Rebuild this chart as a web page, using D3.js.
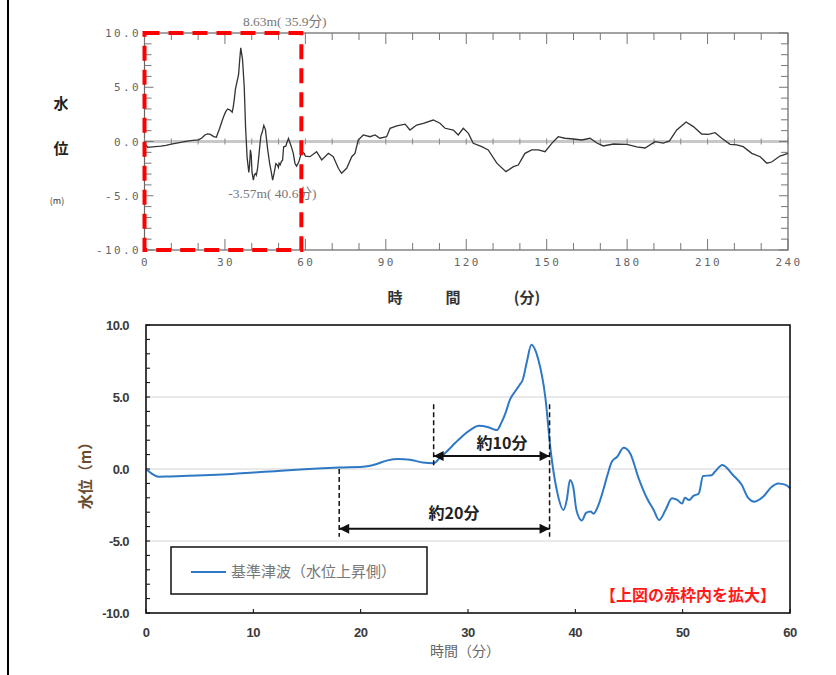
<!DOCTYPE html>
<html><head><meta charset="utf-8">
<script src="https://cdn.jsdelivr.net/npm/d3@7"></script>
<style>
html,body{margin:0;padding:0;background:#fff;}
svg{display:block;}
</style></head>
<body>
<svg id="c" width="836" height="675"></svg>
<script>
// ---------- DATA ----------
// Zoomed series (0-60 min) – bottom chart and first part of the top chart
const timeMin = [0,0.5,1.15,2,4,6,8,10,12,14,16,18,20.2,21.5,22.5,23.5,24.6,25.8,26.8,27.4,28.0,28.8,29.6,30.3,31.0,31.9,32.7,33.1,33.5,33.9,34.4,34.8,35.1,35.5,35.9,36.55,37.2,37.7,38.27,38.9,39.2,39.5,39.8,40.1,40.6,41.0,41.4,41.7,42.1,42.6,43.0,43.4,43.9,44.5,45.1,45.9,46.65,47.3,47.8,48.4,49.0,49.5,49.95,50.2,50.6,51.0,51.5,51.9,52.7,53.0,53.7,54.7,55.5,56.1,56.7,57.5,58.3,58.9,59.6,60];
const levelM = [0,-0.3,-0.53,-0.52,-0.47,-0.42,-0.35,-0.25,-0.15,-0.05,0.03,0.1,0.15,0.35,0.6,0.7,0.65,0.45,0.4,0.8,1.2,1.8,2.36,2.75,3.0,2.9,2.7,3.2,3.9,4.8,5.4,5.83,6.2,7.5,8.63,7.6,5.0,1.3,-1.46,-2.85,-2.15,-0.76,-1.23,-2.85,-3.57,-3.05,-2.95,-3.1,-2.6,-1.46,-0.4,0.5,0.85,1.48,1.1,-0.65,-2.0,-2.85,-3.55,-2.85,-2.03,-2.15,-2.4,-2.0,-2.15,-1.87,-1.7,-0.49,-0.43,-0.19,0.28,-0.43,-1.1,-2.0,-2.27,-1.92,-1.23,-1.0,-1.1,-1.34];
// Continuation 60-240 min (top chart only)
const timeExt = [61.7,64.2,66.1,68.6,70.4,72.3,73.5,75.4,77.3,78.5,79.7,81.6,84.1,86,87.8,90.3,91.6,94.1,97.2,99,101.5,104,107.7,110.2,112.1,115.2,117,118.9,120.8,122.6,125.8,128.2,131.4,134.8,137.6,139.4,141.9,144.4,146.9,149.4,151.9,154.3,156.8,159.9,163.1,166.2,168.7,171.1,174.9,179.9,183.6,186.7,190.4,193.5,195.8,198.5,202,204.7,207.8,210.3,212.8,215.3,218.4,220.9,223.3,226.5,229.6,232.1,233.9,237,240];
const levelExt = [-1.4,-0.94,-1.7,-1.09,-1.4,-2.47,-2.93,-2.47,-1.4,-1.09,0.14,0.6,0.44,0.6,0.3,0.44,1.22,1.43,1.6,1.06,1.52,1.68,1.98,1.68,1.22,1.06,0.6,1.22,0.75,-0.17,-0.48,-0.78,-2.0,-2.78,-2.32,-2.17,-1.09,-0.78,-0.78,-0.94,-0.17,0.44,0.3,0.23,0.14,0.3,-0.14,-0.41,-0.23,-0.26,-0.5,-0.6,-0.02,-0.14,0.05,1.06,1.8,1.37,0.69,0.66,0.81,0.3,-0.26,-0.32,-0.48,-1.09,-1.4,-2.0,-1.89,-1.34,-1.09];

const topXTicks = ["0","30","60","90","120","150","180","210","240"];
const topYTicks = ["10.0","5.0","0.0","-5.0","-10.0"];
const botXTicks = ["0","10","20","30","40","50","60"];
const botYTicks = ["10.0","5.0","0.0","-5.0","-10.0"];

const maxNote = {t:35.9, v:8.63, label:"8.63m( 35.9分)"};
const minNote = {t:40.6, v:-3.57, label:"-3.57m( 40.6分)"};
const legendLabel = "基準津波（水位上昇側）";
const zoomNote = "【上図の赤枠内を拡大】";
const span10 = {from:26.8, to:37.6, label:"約10分"};
const span20 = {from:18, to:37.6, label:"約20分"};

// ---------- DRAW ----------
const svg = d3.select("#c");
const JP = "'Noto Sans CJK JP','Noto Sans',sans-serif";

// page frame line on the left
svg.append("line").attr("x1",8).attr("x2",8).attr("y1",0).attr("y2",675)
  .attr("stroke","#000").attr("stroke-width",2);

// ===== TOP CHART =====
const tx = d3.scaleLinear().domain([0,240]).range([144.5,788]);
const ty = d3.scaleLinear().domain([-10,10]).range([250,33]);
const gTop = svg.append("g");

// zero line
gTop.append("line").attr("x1",tx(0)).attr("x2",tx(240)).attr("y1",ty(0)).attr("y2",ty(0))
  .attr("stroke","#c8c8c8").attr("stroke-width",3);

// frame
gTop.append("rect").attr("x",tx(0)).attr("y",ty(10)).attr("width",tx(240)-tx(0)).attr("height",ty(-10)-ty(10))
  .attr("fill","none").attr("stroke","#666").attr("stroke-width",1.2);

// x ticks (top, bottom, and on zero line)
d3.range(0,241,10).forEach(t=>{
  const major = t%30===0;
  const L = major?11:7;
  gTop.append("line").attr("x1",tx(t)).attr("x2",tx(t)).attr("y1",ty(10)).attr("y2",ty(10)+L).attr("stroke","#777").attr("stroke-width",1);
  gTop.append("line").attr("x1",tx(t)).attr("x2",tx(t)).attr("y1",ty(-10)).attr("y2",ty(-10)-L).attr("stroke","#777").attr("stroke-width",1);
  gTop.append("line").attr("x1",tx(t)).attr("x2",tx(t)).attr("y1",ty(0)-3).attr("y2",ty(0)+3).attr("stroke","#888").attr("stroke-width",1);
});
// y ticks left & right
d3.range(-10,10.01,1).forEach(v=>{
  const L = (v%5===0)?9:7;
  gTop.append("line").attr("x1",tx(0)).attr("x2",tx(0)+L).attr("y1",ty(v)).attr("y2",ty(v)).attr("stroke","#777");
  gTop.append("line").attr("x1",tx(240)).attr("x2",tx(240)-L).attr("y1",ty(v)).attr("y2",ty(v)).attr("stroke","#777");
});

// tick labels
const monoStyle = (s)=>s.attr("font-family","'DejaVu Sans Mono',monospace").attr("font-size",11).attr("fill","#666").attr("letter-spacing","2.4px");
topXTicks.forEach(s=>{
  const t = +s;
  monoStyle(gTop.append("text").attr("x",tx(t)+1).attr("y",266).attr("text-anchor","middle").text(s));
});
topYTicks.forEach(s=>{
  const v = +s;
  monoStyle(gTop.append("text").attr("x",141).attr("y",ty(v)+4).attr("text-anchor","end").text(s));
});

// series
const topData = timeMin.map((t,i)=>({t, v:levelM[i]})).concat(timeExt.map((t,i)=>({t, v:levelExt[i]})));
gTop.append("path").datum(topData)
  .attr("d", d3.line().x(d=>tx(d.t)).y(d=>ty(d.v)).curve(d3.curveLinear))
  .attr("fill","none").attr("stroke","#333").attr("stroke-width",1.3);

// annotations
gTop.append("text").attr("x",tx(maxNote.t)+44).attr("y",26).attr("text-anchor","middle")
  .attr("font-family","'Liberation Serif','Noto Sans CJK JP',serif").attr("font-size",13.5).attr("fill","#777").text(maxNote.label);
gTop.append("text").attr("x",tx(minNote.t)+19).attr("y",ty(minNote.v)+18).attr("text-anchor","middle")
  .attr("font-family","'Liberation Serif','Noto Sans CJK JP',serif").attr("font-size",13.5).attr("fill","#777").text(minNote.label);

// red dashed zoom frame (0-60 min)
gTop.append("rect").attr("x",tx(0)).attr("y",ty(10)).attr("width",tx(58.5)-tx(0)).attr("height",ty(-10)-ty(10))
  .attr("fill","none").attr("stroke","#ff0000").attr("stroke-width",4).attr("stroke-dasharray","15,9");

// axis titles
gTop.append("text").attr("x",61).attr("y",109).attr("text-anchor","middle").attr("font-family",JP).attr("font-weight","bold").attr("font-size",15).attr("fill","#222").text("水");
gTop.append("text").attr("x",61).attr("y",154).attr("text-anchor","middle").attr("font-family",JP).attr("font-weight","bold").attr("font-size",15).attr("fill","#222").text("位");
gTop.append("text").attr("x",57).attr("y",204).attr("text-anchor","middle").attr("font-family",JP).attr("font-size",9).attr("fill","#333").text("(m)");
[["時",395],["間",453],["(分)",527]].forEach(([s,x])=>{
  gTop.append("text").attr("x",x).attr("y",303).attr("text-anchor","middle").attr("font-family",JP).attr("font-weight","bold").attr("font-size",15).attr("fill","#333").text(s);
});

// ===== BOTTOM CHART =====
const bx = d3.scaleLinear().domain([0,60]).range([146,790]);
const by = d3.scaleLinear().domain([-10,10]).range([613,325]);
const gBot = svg.append("g");

// grid
[5,0,-5].forEach(v=>{
  gBot.append("line").attr("x1",bx(0)).attr("x2",bx(60)).attr("y1",by(v)).attr("y2",by(v)).attr("stroke","#d4d4d4").attr("stroke-width",1);
});
// y minor ticks
d3.range(-10,10.01,1).forEach(v=>{
  gBot.append("line").attr("x1",bx(0)).attr("x2",bx(0)+4).attr("y1",by(v)).attr("y2",by(v)).attr("stroke","#000");
});
d3.range(0,61,10).forEach(t=>{
  gBot.append("line").attr("x1",bx(t)).attr("x2",bx(t)).attr("y1",by(-10)).attr("y2",by(-10)-4).attr("stroke","#000");
});

// series
const botData = timeMin.map((t,i)=>({t, v:levelM[i]}));
gBot.append("path").datum(botData)
  .attr("d", d3.line().x(d=>bx(d.t)).y(d=>by(d.v)).curve(d3.curveMonotoneX))
  .attr("fill","none").attr("stroke","#2f78c4").attr("stroke-width",2);

// frame
gBot.append("rect").attr("x",bx(0)).attr("y",by(10)).attr("width",bx(60)-bx(0)).attr("height",by(-10)-by(10))
  .attr("fill","none").attr("stroke","#111").attr("stroke-width",1.6);

// tick labels
botXTicks.forEach(s=>{
  gBot.append("text").attr("x",bx(+s)).attr("y",637).attr("text-anchor","middle")
    .attr("font-family","'Liberation Sans',Arial,sans-serif").attr("font-weight","bold").attr("font-size",13).attr("fill","#3a3a3a").attr("letter-spacing","-0.5px").text(s);
});
botYTicks.forEach(s=>{
  gBot.append("text").attr("x",129).attr("y",by(+s)+5).attr("text-anchor","end")
    .attr("font-family","'Liberation Sans',Arial,sans-serif").attr("font-weight","bold").attr("font-size",13).attr("fill","#3a3a3a").attr("letter-spacing","-0.6px").text(s);
});
// axis titles
gBot.append("text").attr("transform","translate(91,472) rotate(-90)").attr("text-anchor","middle")
  .attr("font-family",JP).attr("font-size",15).attr("font-weight","bold").attr("fill","#6b4a2c").text("水位（m）");
gBot.append("text").attr("x",465).attr("y",656).attr("text-anchor","middle")
  .attr("font-family",JP).attr("font-size",14).attr("fill","#666").text("時間（分）");

// dashed guides
const dash = (t,y1,y2)=>gBot.append("line").attr("x1",bx(t)).attr("x2",bx(t)).attr("y1",by(y1)).attr("y2",by(y2))
  .attr("stroke","#111").attr("stroke-width",1.5).attr("stroke-dasharray","5,3");
dash(span20.from, 0, -4.7);
dash(span10.from, 4.5, 0.1);
dash(span10.to, 4.5, -4.7);

// arrows
const defs = svg.append("defs");
defs.append("marker").attr("id","ah").attr("viewBox","0 0 10 10").attr("refX",10).attr("refY",5)
  .attr("markerWidth",6).attr("markerHeight",5).attr("markerUnits","strokeWidth").attr("orient","auto-start-reverse")
  .append("path").attr("d","M0,0 L10,5 L0,10 Z").attr("fill","#111");
const arrow = (sp,yv)=>gBot.append("line").attr("x1",bx(sp.from)).attr("x2",bx(sp.to)).attr("y1",by(yv)).attr("y2",by(yv))
  .attr("stroke","#111").attr("stroke-width",2).attr("marker-start","url(#ah)").attr("marker-end","url(#ah)");
arrow(span10, 0.9);
arrow(span20, -4.15);
gBot.append("text").attr("x",502).attr("y",449).attr("text-anchor","middle").attr("font-family",JP).attr("font-weight","bold").attr("font-size",16).attr("fill","#222").text(span10.label);
gBot.append("text").attr("x",454).attr("y",519).attr("text-anchor","middle").attr("font-family",JP).attr("font-weight","bold").attr("font-size",16).attr("fill","#222").text(span20.label);

// legend
gBot.append("rect").attr("x",171).attr("y",547).attr("width",256).attr("height",47).attr("fill","#fff").attr("stroke","#111").attr("stroke-width",1.5);
gBot.append("line").attr("x1",191).attr("x2",226).attr("y1",572).attr("y2",572).attr("stroke","#2f78c4").attr("stroke-width",2);
gBot.append("text").attr("x",231).attr("y",577).attr("font-family",JP).attr("font-size",15).attr("fill","#777").text(legendLabel);

// red note
gBot.append("text").attr("x",776).attr("y",601).attr("text-anchor","end").attr("font-family",JP).attr("font-weight","bold").attr("font-size",16).attr("fill","#ff1a1a").text(zoomNote);
</script>
</body></html>
